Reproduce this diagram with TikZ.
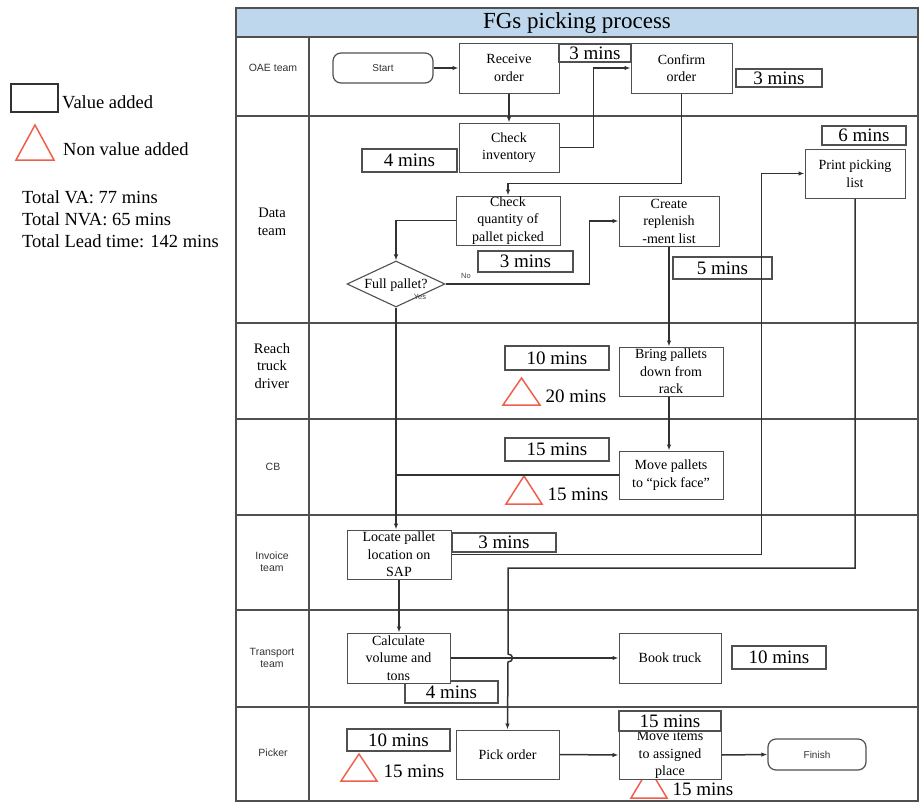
\documentclass[tikz,border=0pt]{standalone}
\usepackage{fontspec}
\setmainfont{Liberation Serif}
\setsansfont{Liberation Sans}
\usetikzlibrary{arrows.meta,shapes.geometric}

\definecolor{titlefill}{RGB}{190,215,236}
\definecolor{nvared}{RGB}{240,95,75}
\definecolor{linegray}{RGB}{50,50,50}
\definecolor{framegray}{RGB}{80,80,80}

\tikzset{
  lane/.style={draw=framegray, line width=1.6pt},
  proc/.style={draw=framegray, fill=white, line width=1pt, inner sep=0pt},
  ptext/.style={align=center, font=\fontsize{14}{17.5}\selectfont, inner sep=0pt},
  timebox/.style={draw=framegray, fill=white, line width=1.1pt, inner sep=0pt},
  ttext/.style={font=\fontsize{19}{19}\selectfont, inner sep=0pt},
  term/.style={draw=framegray, fill=white, rounded corners=8pt, line width=1.2pt, inner sep=0pt},
  termtext/.style={font=\sffamily\fontsize{10}{11}\selectfont, text=black!80, inner sep=0pt},
  flow/.style={draw=linegray, line width=1.5pt},
  arr/.style={flow, -{Latex[length=6pt,width=4.5pt]}},
  nva/.style={draw=nvared, line width=1.5pt, line join=miter},
  serflabel/.style={align=center, font=\fontsize{14.5}{17.5}\selectfont, inner sep=0pt},
  sanslabel/.style={align=center, font=\sffamily\fontsize{10.5}{12}\selectfont, text=black!80, inner sep=0pt},
  tinylabel/.style={font=\sffamily\fontsize{7.5}{8}\selectfont, text=black!75, inner sep=0pt},
  legendtext/.style={font=\fontsize{18.5}{21}\selectfont, inner sep=0pt, anchor=base west},
}

% process step: name, x1, y1, x2, y2, text
\newcommand{\procnode}[6]{%
  \node[proc, minimum width={#4-#2}, minimum height={#5-#3}] (#1) at ({(#2+#4)/2},{(#3+#5)/2}) {};
  \node[ptext] (#1-t) at (#1.center) {#6};}
% time box: name, x1, y1, x2, y2, text
\newcommand{\timenode}[6]{%
  \node[timebox, minimum width={#4-#2}, minimum height={#5-#3}] (#1) at ({(#2+#4)/2},{(#3+#5)/2}) {};
  \node[ttext] (#1-t) at (#1.center) {#6};}

\begin{document}
\begin{tikzpicture}[x=1pt, y=-1pt]
\useasboundingbox (0,0) rectangle (919,803);

% ---------- legend ----------
\draw[draw=linegray, line width=1.2pt] (11,84) rectangle (58,112);
\node[legendtext] (lg-va) at (62,108) {Value added};
\draw[nva] (16,160) -- (54,160) -- (35,125) -- cycle;
\node[legendtext] (lg-nva) at (63,155) {Non value added};
\node[legendtext] (tot-va) at (22,203) {Total VA: 77 mins};
\node[legendtext] (tot-nva) at (22,225) {Total NVA: 65 mins};
\node[legendtext] (tot-lt) at (22,247) {Total Lead time: 142 mins};

% ---------- swimlane frame ----------
\fill[titlefill] (236,8) rectangle (918,37);
\node[font=\fontsize{23}{23}\selectfont, inner sep=0pt] (title) at (577,23) {FGs picking process};
\draw[lane] (236,8) rectangle (918,801);
\draw[lane] (236,37) -- (918,37);
\foreach \yy in {116,323,419,515,610,707}
  \draw[lane] (236,\yy) -- (918,\yy);
\draw[lane] (309,37) -- (309,801);

% lane titles
\node[sanslabel] (ln-oae) at (273,68) {OAE team};
\node[serflabel] (ln-data) at (272,222) {Data\\team};
\node[serflabel] (ln-reach) at (272,366) {Reach\\truck\\driver};
\node[sanslabel] (ln-cb) at (273,467) {CB};
\node[sanslabel] (ln-inv) at (272,562) {Invoice\\team};
\node[sanslabel] (ln-tr) at (272,658) {Transport\\team};
\node[sanslabel] (ln-pick) at (273,753) {Picker};

% ---------- non value added marks ----------
\draw[nva] (503,405) -- (540,405) -- (521.5,378) -- cycle;
\node[ttext] (nva-1) at (576,396) {20 mins};
\draw[nva] (506,504) -- (542,504) -- (524,476) -- cycle;
\node[ttext] (nva-2) at (578,494) {15 mins};
\draw[nva] (341,781) -- (377,781) -- (359,754) -- cycle;
\node[ttext] (nva-3) at (414,771) {15 mins};
\draw[nva] (631,798) -- (667,798) -- (649,768) -- cycle;
\node[ttext] (nva-4) at (703,789) {15 mins};

% ---------- terminals ----------
\node[term, minimum width=100pt, minimum height=30pt] (start) at (383,68) {};
\node[termtext] (start-t) at (start.center) {Start};
\node[term, minimum width=98pt, minimum height=31pt] (fin) at (817,754.5) {};
\node[termtext] (fin-t) at (fin.center) {Finish};

% ---------- process steps ----------
\procnode{recv}{459}{43}{559}{93}{Receive\\order}
\procnode{conf}{631}{43}{732}{93}{Confirm\\order}
\procnode{chk}{459}{123}{559}{172}{Check\\inventory}
\procnode{cq}{456}{196}{560}{245}{Check\\quantity of\\pallet picked}
\procnode{crl}{619}{196}{719}{246}{Create\\replenish\\-ment list}
\procnode{ppl}{805}{149}{905}{198}{Print picking\\list}
\procnode{brp}{619}{347}{723}{396}{Bring pallets\\down from\\rack}
\procnode{mvp}{619}{451}{723}{499}{Move pallets\\to “pick face”}
\procnode{loc}{347}{530}{451}{579}{Locate pallet\\location on\\SAP}
\timenode{t10}{405}{681}{498}{703}{4 mins}
\procnode{calc}{347}{633}{450}{683}{Calculate\\volume and\\tons}
\procnode{book}{619}{633}{721}{683}{Book truck}
\procnode{pick}{456}{730}{559}{779}{Pick order}
\procnode{mvi}{619}{731}{721}{779}{Move items\\to assigned\\place}

% decision
\node[draw=framegray, fill=white, line width=1.1pt, shape=diamond,
      minimum width=98pt, minimum height=46pt, inner sep=0pt] (dia) at (396,284) {};
\node[ptext] (dia-t) at (396,285) {Full pallet?};
\node[tinylabel] (dia-no) at (466,276) {No};
\node[tinylabel] (dia-yes) at (420,297) {Yes};

% ---------- value added times ----------
\timenode{t1}{559}{44}{631}{62}{3 mins}
\timenode{t2}{736}{69}{822}{87}{3 mins}
\timenode{t3}{362}{149}{457}{172}{4 mins}
\timenode{t4}{822}{126}{906}{145}{6 mins}
\timenode{t5}{478}{251}{573}{272}{3 mins}
\timenode{t6}{673}{257}{772}{279}{5 mins}
\timenode{t7}{505}{346}{609}{370}{10 mins}
\timenode{t8}{505}{438}{609}{461}{15 mins}
\timenode{t9}{452}{533}{556}{552}{3 mins}
\timenode{t11}{732}{646}{826}{669}{10 mins}
\timenode{t12}{347}{729}{450}{751}{10 mins}
\timenode{t13}{619}{711}{721}{731}{15 mins}

% ---------- flow ----------
\draw[arr] (start) -- (recv);
\draw[arr] (recv) -- (chk);
\draw[arr] (chk.east) -- ++(34,0) |- (conf.west);
\draw[arr] (conf.south) -- ++(0,90) -| (cq.north);
\draw[arr] (cq.west) -| (dia.north);
\draw[arr] (dia.east) -- ++(144,0) |- (crl.west);
\draw[arr] (crl.south) -- (crl.south |- brp.north);
\draw[arr] (crl.south |- brp.south) -- (crl.south |- mvp.north);
\draw[flow] (mvp.west) -- (dia.south |- mvp.west);
\draw[arr] (dia.south) -- (dia.south |- loc.north);
\draw[arr] (loc.south) -- (loc.south |- calc.north);
\draw[arr] (loc.east) -- ++(310,0) |- (ppl.west);
\draw[arr] (ppl.south) |- (508,568) -- (508,654)
  .. controls (514,654) and (514,662) .. (508,662) -- (pick.north);
\draw[arr] (calc.east) -- (book.west);
\draw[arr] (pick.east) -- (mvi.west);
\draw[arr] (mvi.east) -- (fin.west);

\end{tikzpicture}
\end{document}
